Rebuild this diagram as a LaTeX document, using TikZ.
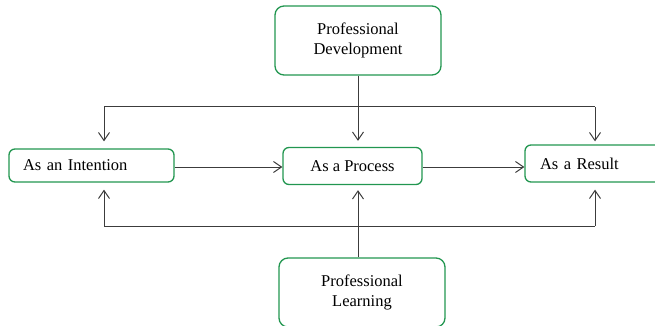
\documentclass[tikz,border=0pt]{standalone}
\usepackage{fontspec}
\setmainfont{Liberation Serif}
\usetikzlibrary{arrows.meta}
\definecolor{boxgreen}{RGB}{34,150,80}
\definecolor{linegray}{RGB}{60,60,60}
\begin{document}
\begin{tikzpicture}[x=1pt,y=-1pt,
  box/.style={draw=boxgreen,line width=1.3pt,rounded corners=6pt,inner sep=0pt,
    font=\fontsize{16.5}{20}\selectfont,text=black},
  bigbox/.style={box,rounded corners=9pt,minimum width=166pt,minimum height=69pt,align=center},
  conn/.style={draw=linegray,line width=1pt},
  arr/.style={conn,-{Straight Barb[length=8pt,width=11pt]}}]
\useasboundingbox (0,0) rectangle (655,326);
\clip (0,0) rectangle (655,326);
\node[bigbox] (dev) at (358,40.5) {Professional\\Development};
\node[bigbox] (learn) at (362,292.5) {Professional\\Learning};
\node[box,minimum width=165pt,minimum height=33pt,text width=137pt,align=left] (int) at (91.5,165.5) {As an Intention};
\node[box,minimum width=139pt,minimum height=37pt,align=center] (proc) at (352.5,166) {As a Process};
\node[box,minimum width=140pt,minimum height=37pt,text width=110pt,align=left] (res) at (595,163.5) {As a Result};
% junction coordinates
\coordinate (tl) at (104,107);
\coordinate (tm) at (358,107);
\coordinate (tr) at (595,107);
\coordinate (bl) at (104,226);
\coordinate (bm) at (358,226);
\coordinate (br) at (595,226);
\coordinate (h) at (0,167);
% top distribution
\draw[conn] (dev.south -| tm) -- (tm);
\draw[conn] (tl) -- (tr);
\draw[arr] (tl) -- ([yshift=7pt]int.north -| tl);
\draw[arr] (tm) -- ([yshift=6pt]proc.north -| tm);
\draw[arr] (tr) -- ([yshift=3pt]res.north -| tr);
% bottom distribution
\draw[conn] (bl) -- (br);
\draw[arr] (bl) -- ([yshift=-7pt]int.south -| bl);
\draw[arr] (learn.north -| bm) -- ([yshift=-5pt]proc.south -| bm);
\draw[arr] (br) -- ([yshift=-7pt]res.south -| br);
% horizontal
\draw[arr] (int.east |- h) -- (proc.west |- h);
\draw[arr] (proc.east |- h) -- (res.west |- h);
\end{tikzpicture}
\end{document}
